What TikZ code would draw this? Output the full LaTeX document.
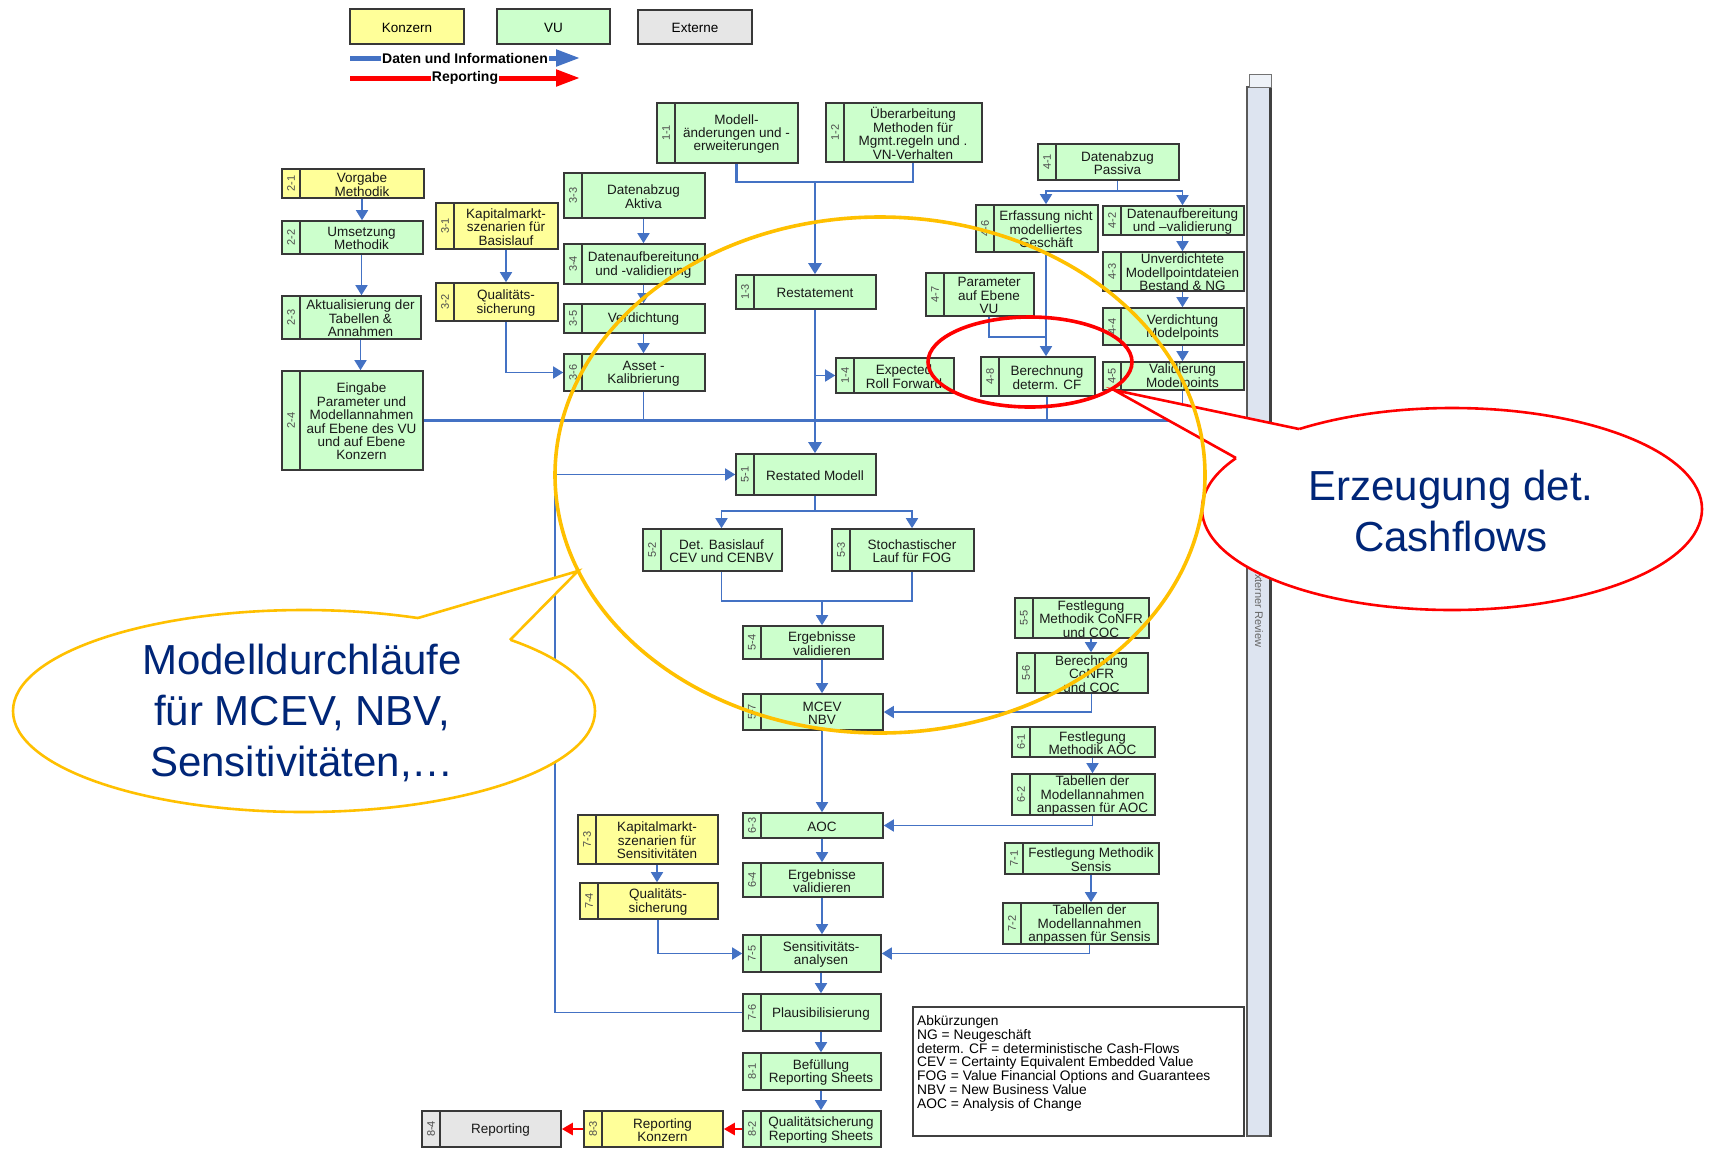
\documentclass[tikz,border=0pt]{standalone}
\usepackage{fontspec}
\setmainfont{Liberation Sans}
\usetikzlibrary{arrows.meta,fit,calc}
\definecolor{boxgreen}{HTML}{CCFFCC}
\definecolor{boxyellow}{HTML}{FFFF99}
\definecolor{boxgray}{HTML}{E6E6E6}
\definecolor{flowblue}{HTML}{4472C4}
\definecolor{callyellow}{HTML}{FFC000}
\definecolor{callred}{HTML}{FF0000}
\definecolor{navytext}{RGB}{0,38,120}
\definecolor{barfill}{HTML}{DDE4F0}
\newcommand\mkbox[8]{%
  \node[stripbox, fill=#7, fit={(#3,#4) (#3+18,#6)}] (#1s) {};
  \node[mainbox, fill=#7, fit={(#3+18,#4) (#5,#6)}] (#1) {};
  \node[boxtext] (#1t) at (#1.center) {#8};
  \node[numtext] (#1n) at (#1s.center) {#2};
}
\begin{document}
\begin{tikzpicture}[x=1pt,y=-1pt,
  mainbox/.style={draw=black!78, line width=1.6pt, inner sep=0pt},
  boxtext/.style={inner sep=0pt, align=center, yshift=-1pt,
    font=\fontsize{13.5}{13.4}\selectfont, text=black!90},
  stripbox/.style={draw=black!78, line width=1.6pt, inner sep=0pt},
  numtext/.style={rotate=90, font=\fontsize{11}{11}\selectfont, text=black!70, inner sep=0pt},
  legbox/.style={draw=black!78, line width=1.6pt, inner sep=0pt},
  legtext/.style={inner sep=0pt, yshift=-1pt, font=\fontsize{13.5}{13.5}\selectfont},
  flow/.style={draw=flowblue, line width=1.6pt},
  flowthick/.style={draw=flowblue, line width=2.2pt},
  arr/.style={flow, -{Triangle[width=12pt,length=10pt]}},
  trunkarr/.style={draw=flowblue, line width=2.6pt, -{Triangle[width=13pt,length=11pt]}},
  redarr/.style={draw=callred, line width=2.6pt, -{Triangle[width=12pt,length=11pt]}},
  callout/.style={line width=2.6pt, line join=miter},
  calltext/.style={font=\fontsize{42}{51}\selectfont, text=navytext, align=center, inner sep=0pt}
]
\fill[white] (0,0) rectangle (1712,1149);
\useasboundingbox (0,0) rectangle (1712,1149);

% ---------- legend ----------
\node[legbox, fill=boxyellow, fit={(350,9) (464,44)}] (lgK) {};
\node[legtext] (lgKt) at (lgK.center) {Konzern};
\node[legbox, fill=boxgreen, fit={(497,9) (610,44)}] (lgV) {};
\node[legtext] (lgVt) at (lgV.center) {VU};
\node[legbox, fill=boxgray, fit={(638,10) (752,44)}] (lgE) {};
\node[legtext] (lgEt) at (lgE.center) {Externe};
\coordinate (lb1) at (350,58);
\coordinate (lb2) at (580,58);
\coordinate (lr1) at (350,78);
\coordinate (lr2) at (580,78);
\draw[flowblue, line width=5pt, -{Triangle[width=16pt,length=24pt]}] (lb1) -- (lb2)
  node[midway, fill=white, inner sep=1pt, text=black, font=\bfseries\fontsize{14}{14}\selectfont] (lgt1) {Daten und Informationen};
\draw[callred, line width=5pt, -{Triangle[width=16pt,length=24pt]}] (lr1) -- (lr2)
  node[midway, fill=white, inner sep=1pt, text=black, font=\bfseries\fontsize{14}{14}\selectfont] (lgt2) {Reporting};

% ---------- boxes ----------
\mkbox{b21}{2-1}{282}{169}{424}{198}{boxyellow}{Vorgabe\\Methodik}
\mkbox{b22}{2-2}{282}{221}{423}{254}{boxgreen}{Umsetzung\\Methodik}
\mkbox{b23}{2-3}{282}{296}{421}{339}{boxgreen}{Aktualisierung der\\Tabellen \&\\Annahmen}
\mkbox{b24}{2-4}{282}{371}{423}{470}{boxgreen}{Eingabe\\Parameter und\\Modellannahmen\\auf Ebene des VU\\und auf Ebene\\Konzern}
\mkbox{b31}{3-1}{436}{203}{558}{249}{boxyellow}{Kapitalmarkt-\\szenarien für\\Basislauf}
\mkbox{b32}{3-2}{436}{283}{558}{321}{boxyellow}{Qualitäts-\\sicherung}
\mkbox{b33}{3-3}{564}{173}{705}{218}{boxgreen}{Datenabzug\\Aktiva}
\mkbox{b34}{3-4}{564}{244}{705}{284}{boxgreen}{Datenaufbereitung\\und -validierung}
\mkbox{b35}{3-5}{564}{304}{705}{333}{boxgreen}{Verdichtung}
\mkbox{b36}{3-6}{564}{354}{705}{391}{boxgreen}{Asset -\\Kalibrierung}
\mkbox{b11}{1-1}{657}{103}{798}{163}{boxgreen}{Modell-\\änderungen und -\\erweiterungen}
\mkbox{b12}{1-2}{826}{103}{982}{162}{boxgreen}{Überarbeitung\\Methoden für\\Mgmt.regeln und .\\VN-Verhalten}
\mkbox{b13}{1-3}{736}{275}{876}{309}{boxgreen}{Restatement}
\mkbox{b14}{1-4}{836}{358}{954}{393}{boxgreen}{Expected\\Roll Forward}
\mkbox{b41}{4-1}{1038}{144}{1179}{180}{boxgreen}{Datenabzug\\Passiva}
\mkbox{b46}{4-6}{976}{205}{1098}{252}{boxgreen}{Erfassung nicht\\modelliertes\\Geschäft}
\mkbox{b42}{4-2}{1103}{206}{1244}{235}{boxgreen}{Datenaufbereitung\\und –validierung}
\mkbox{b43}{4-3}{1103}{252}{1244}{291}{boxgreen}{Unverdichtete\\Modellpointdateien\\Bestand \& NG}
\mkbox{b44}{4-4}{1103}{308}{1244}{345}{boxgreen}{Verdichtung\\Modelpoints}
\mkbox{b45}{4-5}{1103}{362}{1244}{390}{boxgreen}{Validierung\\Modelpoints}
\mkbox{b47}{4-7}{926}{273}{1034}{316}{boxgreen}{Parameter\\auf Ebene\\VU}
\mkbox{b48}{4-8}{981}{357}{1095}{396}{boxgreen}{Berechnung\\determ. CF}
\mkbox{b51}{5-1}{736}{454}{876}{495}{boxgreen}{Restated Modell}
\mkbox{b52}{5-2}{643}{529}{782}{571}{boxgreen}{Det. Basislauf\\CEV und CENBV}
\mkbox{b53}{5-3}{832}{529}{974}{571}{boxgreen}{Stochastischer\\Lauf für FOG}
\mkbox{b54}{5-4}{743}{626}{883}{659}{boxgreen}{Ergebnisse\\validieren}
\mkbox{b57}{5-7}{743}{694}{883}{730}{boxgreen}{MCEV\\NBV}
\mkbox{b55}{5-5}{1015}{598}{1149}{638}{boxgreen}{Festlegung\\Methodik CoNFR\\und COC}
\mkbox{b56}{5-6}{1017}{653}{1148}{693}{boxgreen}{Berechnung\\CoNFR\\und COC}
\mkbox{b61}{6-1}{1012}{727}{1155}{757}{boxgreen}{Festlegung\\Methodik AOC}
\mkbox{b62}{6-2}{1012}{774}{1155}{815}{boxgreen}{Tabellen der\\Modellannahmen\\anpassen für AOC}
\mkbox{b63}{6-3}{743}{813}{883}{838}{boxgreen}{AOC}
\mkbox{b64}{6-4}{743}{863}{883}{897}{boxgreen}{Ergebnisse\\validieren}
\mkbox{b73}{7-3}{578}{815}{718}{864}{boxyellow}{Kapitalmarkt-\\szenarien für\\Sensitivitäten}
\mkbox{b74}{7-4}{580}{883}{718}{919}{boxyellow}{Qualitäts-\\sicherung}
\mkbox{b71}{7-1}{1005}{843}{1159}{874}{boxgreen}{Festlegung Methodik\\Sensis}
\mkbox{b72}{7-2}{1003}{903}{1158}{944}{boxgreen}{Tabellen der\\Modellannahmen\\anpassen für Sensis}
\mkbox{b75}{7-5}{743}{935}{881}{972}{boxgreen}{Sensitivitäts-\\analysen}
\mkbox{b76}{7-6}{743}{994}{881}{1031}{boxgreen}{Plausibilisierung}
\mkbox{b81}{8-1}{743}{1053}{881}{1090}{boxgreen}{Befüllung\\Reporting Sheets}
\mkbox{b82}{8-2}{743}{1111}{881}{1147}{boxgreen}{Qualitätsicherung\\Reporting Sheets}
\mkbox{b83}{8-3}{584}{1111}{723}{1147}{boxyellow}{Reporting\\Konzern}
\mkbox{b84}{8-4}{422}{1111}{561}{1147}{boxgray}{Reporting}

% abbreviations
\node[draw=black!75, line width=1.2pt, inner sep=0pt, fit={(913,1007) (1244,1136)}] (abk) {};
\node[anchor=north west, align=left, inner sep=0pt, font=\fontsize{13.8}{13.9}\selectfont] (abktext) at (917,1015)
 {Abkürzungen\\NG = Neugeschäft\\determ. CF = deterministische Cash-Flows\\CEV = Certainty Equivalent Embedded Value\\FOG = Value Financial Options and Guarantees\\NBV = New Business Value\\AOC = Analysis of Change};

% external review bar
\node[fill=barfill, draw=black!65, line width=1.4pt, inner sep=0pt, fit={(1247,87) (1270,1136)}] (xrbar) {};
\draw[black!75, line width=3pt] (xrbar.north east) -- (xrbar.south east);
\node[fill=barfill!50, draw=black!55, line width=1pt, inner sep=0pt, fit={(1249,74) (1271,87)}] (xrcap) {};
\node[rotate=-90, font=\fontsize{11}{11}\selectfont, text=black!60, inner sep=0pt] (xrtext) at (1259,607) {Externer Review};

% ---------- connectors ----------
\draw[arr] (b21.south) -- (b21.south |- b22.north);
\draw[arr] (b22.south) -- (b22.south |- b23.north);
\draw[arr] (b23.south) -- (b23.south |- b24.north);
\draw[arr] (b31.south) -- (b31.south |- b32.north);
\draw[arr] (b32.south) |- (b36s.west);
\draw[arr] (b33.south) -- (b33.south |- b34.north);
\draw[arr] (b34.south) -- (b34.south |- b35.north);
\draw[arr] (b35.south) -- (b35.south |- b36.north);

\coordinate (j1) at (815,182);
\draw[flowthick] (b11.south) |- (j1) -| (b12.south);
\draw[trunkarr] (j1) -- (j1 |- b13.north);
\draw[trunkarr] (b13.south) -- (b13.south |- b51.north);
\draw[arr] (b13.south |- b14s.west) -- (b14s.west);

\draw[flowthick] (b24.east) -- (b24.east -| b45.south);
\draw[flow] (b36.south) -- (b36.south |- b24.east);
\draw[flow] (b48.south) -- (b48.south |- b24.east);
\draw[flow] (b45.south) -- (b45.south |- b24.east);

\coordinate (j6) at (0,191);
\draw[flow] (b41.south) -- (b41.south |- j6);
\draw[arr] (b41.south |- j6) -| (b46.north);
\draw[arr] (b41.south |- j6) -| (b42.north);
\draw[arr] (b42.south) -- (b42.south |- b43.north);
\draw[arr] (b43.south) -- (b43.south |- b44.north);
\draw[arr] (b44.south) -- (b44.south |- b45.north);
\draw[arr] (b46.south) -- (b46.south |- b48.north);
\coordinate (j7) at (0,337);
\draw[flow] (b47.south) |- (b46.south |- j7);

\coordinate (loopx) at (555,0);
\draw[arr] (b76s.west) -- (b76s.west -| loopx) |- (b51s.west);

\coordinate (j4) at (0,511);
\draw[flow] (b51.south) -- (b51.south |- j4);
\draw[arr] (b51.south |- j4) -| (b52.north);
\draw[arr] (b51.south |- j4) -| (b53.north);
\coordinate (j5) at (0,601);
\draw[flow] (b52.south) |- (j5 -| b53.south) -- (b53.south);
\draw[arr] (b54.north |- j5) -- (b54.north);
\draw[arr] (b54.south) -- (b54.south |- b57.north);
\draw[arr] (b57.south) -- (b57.south |- b63.north);
\draw[arr] (b55.south) -- (b55.south |- b56.north);
\draw[arr] (b56.south) |- (b57.east);
\draw[arr] (b61.south) -- (b61.south |- b62.north);
\draw[arr] (b62.south) |- (b63.east);
\draw[arr] (b63.south) -- (b63.south |- b64.north);
\draw[arr] (b64.south) -- (b64.south |- b75.north);
\draw[arr] (b73.south) -- (b73.south |- b74.north);
\draw[arr] (b74.south) |- (b75s.west);
\draw[arr] (b71.south) -- (b71.south |- b72.north);
\draw[arr] (b72.south) |- (b75.east);
\draw[arr] (b75.south) -- (b75.south |- b76.north);
\draw[arr] (b76.south) -- (b76.south |- b81.north);
\draw[arr] (b81.south) -- (b81.south |- b82.north);
\draw[redarr] (b82s.west) -- (b83.east);
\draw[redarr] (b83s.west) -- (b84.east);

% ---------- callouts ----------
\fill[white] (304,711) ellipse [x radius=291, y radius=101];
\draw[callyellow, callout] (304,711) ellipse [x radius=291, y radius=101];
\fill[white] (418,618) -- (578,571) -- (510,640) -- (510,647) -- (418,625) -- cycle;
\draw[callyellow, callout] (418,618) -- (578,571) -- (510,640);
\node[calltext] (cl1) at (302,713) {Modelldurchläufe\\für MCEV, NBV,\\Sensitivitäten,…};
\fill[white] (1452,509) ellipse [x radius=250, y radius=101];
\draw[callred, callout] (1452,509) ellipse [x radius=250, y radius=101];
\fill[white] (1299,429) -- (1114,390) -- (1236,458) -- (1240,464) -- (1303,436) -- cycle;
\draw[callred, callout] (1299,429) -- (1114,390) -- (1236,458);
\node[calltext] (cl2) at (1451,511) {Erzeugung det.\\Cashflows};

\draw[callyellow, line width=3.6pt] (880,475) ellipse [x radius=325, y radius=258];
\draw[callred, line width=3.6pt] (1030,362) ellipse [x radius=102, y radius=45];
\end{tikzpicture}
\end{document}
